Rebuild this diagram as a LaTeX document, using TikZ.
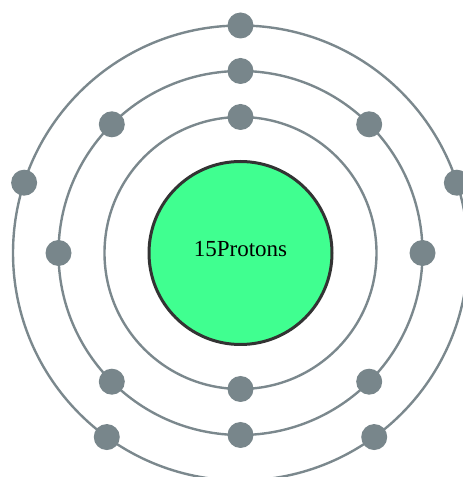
\documentclass[tikz,border=0pt]{standalone}
\usepackage{fontspec}
\setmainfont{Liberation Serif}
\usetikzlibrary{calc}
\definecolor{ringgray}{HTML}{7B888D}
\definecolor{elgray}{HTML}{78868B}
\definecolor{nucgreen}{HTML}{40FF90}
\definecolor{nucedge}{HTML}{333333}
\begin{document}
\begin{tikzpicture}[x=1pt,y=1pt,
  ring/.style={draw=ringgray,line width=2.4pt},
  electron/.style={circle,fill=elgray,minimum size=26pt,inner sep=0pt},
  nucleus/.style={circle,fill=nucgreen,draw=nucedge,line width=3pt,minimum size=183pt,inner sep=0pt,font=\fontsize{23}{23}\selectfont}]
\useasboundingbox (0,0) rectangle (463,477);
\coordinate (c) at (240.5,224);
\draw[ring] (c) circle[radius=136];
\draw[ring] (c) circle[radius=182];
\draw[ring] (c) circle[radius=227.5];
\node[nucleus] (nuc) at (c) {};
\node[font=\fontsize{23}{23}\selectfont] (lbl) at ($(c)+(0,4)$) {15Protons};
\foreach \a [count=\i] in {90,270}
  \node[electron] (e1\i) at ($(c)+(\a:136)$) {};
\foreach \a [count=\i] in {0,45,...,315}
  \node[electron] (e2\i) at ($(c)+(\a:182)$) {};
\foreach \a [count=\i] in {18,90,162,234,306}
  \node[electron] (e3\i) at ($(c)+(\a:227.5)$) {};
\end{tikzpicture}
\end{document}
